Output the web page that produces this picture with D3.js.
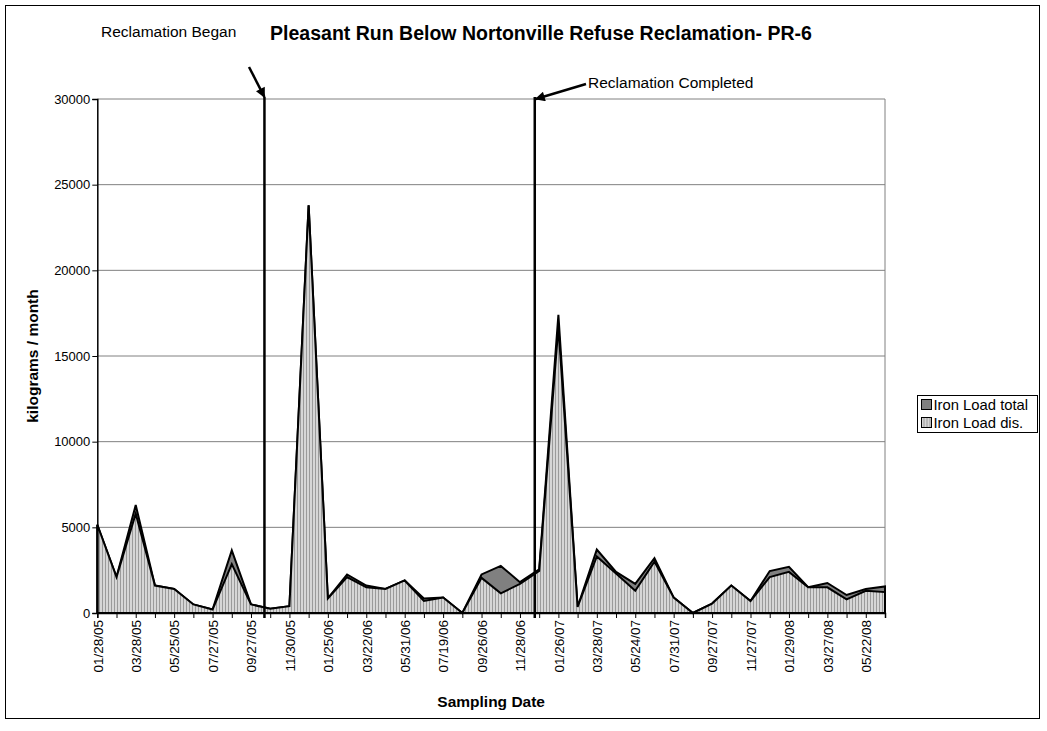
<!DOCTYPE html>
<html>
<head>
<meta charset="utf-8">
<script src="https://cdn.jsdelivr.net/npm/d3@7/dist/d3.min.js"></script>
<style>
  html, body { margin: 0; padding: 0; background: #fff; }
  svg { display: block; font-family: "Liberation Sans", Arial, sans-serif; }
</style>
</head>
<body>
<svg id="chart" width="1047" height="731"></svg>
<script>
// ---- data ----
const categories = [
  "01/28/05","02/24/05","03/28/05","04/27/05","05/25/05","06/28/05","07/27/05","08/25/05",
  "09/27/05","10/26/05","11/30/05","12/28/05","01/25/06","02/22/06","03/22/06","04/26/06",
  "05/31/06","06/28/06","07/19/06","08/23/06","09/26/06","10/25/06","11/28/06","12/19/06",
  "01/26/07","02/27/07","03/28/07","04/25/07","05/24/07","06/27/07","07/31/07","08/29/07",
  "09/27/07","10/24/07","11/27/07","12/19/07","01/29/08","02/27/08","03/27/08","04/24/08",
  "05/22/08","06/25/08"
];
const ironLoadTotal = [
  5150, 2100, 6300, 1600, 1400, 500, 200, 3650,
  500, 250, 400, 23800, 850, 2250, 1600, 1400,
  1900, 850, 900, 0, 2250, 2750, 1800, 2550,
  17400, 350, 3700, 2400, 1700, 3200, 900, 0,
  550, 1600, 700, 2450, 2700, 1500, 1750, 1050,
  1400, 1550
];
const ironLoadDis = [
  5150, 2100, 5800, 1600, 1400, 500, 200, 2850,
  500, 250, 400, 23800, 850, 2100, 1500, 1400,
  1900, 700, 900, 0, 2050, 1150, 1700, 2450,
  16700, 350, 3300, 2300, 1300, 3000, 900, 0,
  550, 1600, 700, 2100, 2400, 1500, 1500, 800,
  1300, 1220
];
const seriesNames = ["Iron Load total", "Iron Load dis."];
const yTicks = [0, 5000, 10000, 15000, 20000, 25000, 30000];
const tickLabels = categories.filter((d, i) => i % 2 === 0);
const eventLabels = ["Reclamation Began", "Reclamation Completed"];
const eventIndex = [8.7, 22.77];
const titleText = "Pleasant Run Below Nortonville Refuse Reclamation- PR-6";
const xTitle = "Sampling Date";
const yTitle = "kilograms / month";

// ---- layout ----
const svg = d3.select("#chart");
const L = 97.3, R = 885, T = 99, B = 613;

const defs = svg.append("defs");
const pat = defs.append("pattern").attr("id", "vstripe")
  .attr("patternUnits", "userSpaceOnUse").attr("width", 3).attr("height", 10);
pat.append("rect").attr("width", 3).attr("height", 10).attr("fill", "#d6d6d6");
pat.append("rect").attr("width", 1).attr("height", 10).attr("fill", "#9a9a9a");

// outer border
svg.append("rect").attr("x", 5.5).attr("y", 5.5).attr("width", 1034).attr("height", 713)
  .attr("fill", "none").attr("stroke", "#000").attr("stroke-width", 1);

const x = d3.scalePoint().domain(categories).range([L, R]).padding(0);
const y = d3.scaleLinear().domain([0, 30000]).range([B, T]);

// gridlines
svg.append("g").selectAll("line").data(yTicks.filter(d => d > 0)).join("line")
  .attr("x1", L).attr("x2", R).attr("y1", d => y(d)).attr("y2", d => y(d))
  .attr("stroke", "#808080").attr("stroke-width", 1);
// right border of plot
svg.append("line").attr("x1", R).attr("x2", R).attr("y1", T).attr("y2", B)
  .attr("stroke", "#808080");

// areas
const areaGen = d3.area().x((d, i) => x(categories[i])).y0(y(0)).y1(d => y(d));
svg.append("path").datum(ironLoadTotal).attr("d", areaGen)
  .attr("fill", "#808080").attr("stroke", "#000").attr("stroke-width", 2).attr("stroke-linejoin", "miter");
svg.append("path").datum(ironLoadDis).attr("d", areaGen)
  .attr("fill", "url(#vstripe)").attr("stroke", "#000").attr("stroke-width", 2).attr("stroke-linejoin", "miter");

// x axis
const xAxis = d3.axisBottom(x).tickSize(5).tickFormat(d => tickLabels.includes(d) ? d : "");
const gx = svg.append("g").attr("transform", `translate(0,${B})`).call(xAxis);
gx.select(".domain").attr("stroke", "#000").attr("stroke-width", 1.5);
gx.selectAll(".tick line").attr("stroke", "#000");
gx.selectAll(".tick text")
  .attr("transform", "rotate(-90)")
  .attr("text-anchor", "end")
  .attr("x", -7).attr("y", 0).attr("dy", "0.35em")
  .style("font-size", "13.5px").attr("fill", "#000")
  .style("font-family", "'Liberation Sans', Arial, sans-serif");

// y axis
const yAxis = d3.axisLeft(y).tickValues(yTicks).tickSize(5).tickFormat(d3.format("d"));
const gy = svg.append("g").attr("transform", `translate(${L},0)`).call(yAxis);
gy.select(".domain").attr("stroke", "#000").attr("stroke-width", 1.5);
gy.selectAll(".tick line").attr("stroke", "#000");
gy.selectAll(".tick text").attr("x", -7).style("font-size", "13px").attr("fill", "#000")
  .style("font-family", "'Liberation Sans', Arial, sans-serif");

// event lines
const step = x.step();
const eventX = eventIndex.map(v => x(categories[Math.floor(v)]) + (v - Math.floor(v)) * step);
svg.append("g").selectAll("line").data(eventX).join("line")
  .attr("x1", d => d).attr("x2", d => d).attr("y1", y(30000) - 2).attr("y2", B + 5)
  .attr("stroke", "#000").attr("stroke-width", 2.5);

// arrows
defs.append("marker").attr("id", "arrow").attr("viewBox", "0 0 10 10")
  .attr("refX", 9).attr("refY", 5).attr("markerWidth", 4.5).attr("markerHeight", 4)
  .attr("markerUnits", "strokeWidth").attr("orient", "auto")
  .append("path").attr("d", "M0,0 L10,5 L0,10 z").attr("fill", "#000");
const arrowStarts = [[249, 67], [586, 84]];
svg.append("g").selectAll("line").data(eventX).join("line")
  .attr("x1", (d, i) => arrowStarts[i][0]).attr("y1", (d, i) => arrowStarts[i][1])
  .attr("x2", (d, i) => d + (i === 0 ? 0 : 1)).attr("y2", (d, i) => y(30000) - (i === 0 ? 2 : 0))
  .attr("stroke", "#000").attr("stroke-width", 2.5).attr("marker-end", "url(#arrow)");

svg.append("text").attr("x", 101).attr("y", 37).text(eventLabels[0])
  .style("font-size", "15.5px");
svg.append("text").attr("x", 588).attr("y", 88).text(eventLabels[1])
  .style("font-size", "15.5px");

// title
svg.append("text").attr("x", 541).attr("y", 40).attr("text-anchor", "middle")
  .style("font-size", "19.5px").style("font-weight", "bold").text(titleText);

// axis titles
svg.append("text").attr("x", (L + R) / 2).attr("y", 707).attr("text-anchor", "middle")
  .style("font-size", "15.5px").style("font-weight", "bold").text(xTitle);
svg.append("text").attr("transform", `translate(38,${(T + B) / 2}) rotate(-90)`)
  .attr("text-anchor", "middle").style("font-size", "15.5px").style("font-weight", "bold").text(yTitle);

// legend
const lg = svg.append("g").attr("transform", "translate(917.5,395.5)");
lg.append("rect").attr("width", 120).attr("height", 37).attr("fill", "#fff").attr("stroke", "#000");
const fills = ["#808080", "url(#vstripe)"];
seriesNames.forEach((n, i) => {
  lg.append("rect").attr("x", 4).attr("y", 4 + i * 18).attr("width", 10).attr("height", 10)
    .attr("fill", fills[i]).attr("stroke", "#000");
  lg.append("text").attr("x", 16).attr("y", 14 + i * 18).text(n).style("font-size", "14.8px");
});
</script>
</body>
</html>
